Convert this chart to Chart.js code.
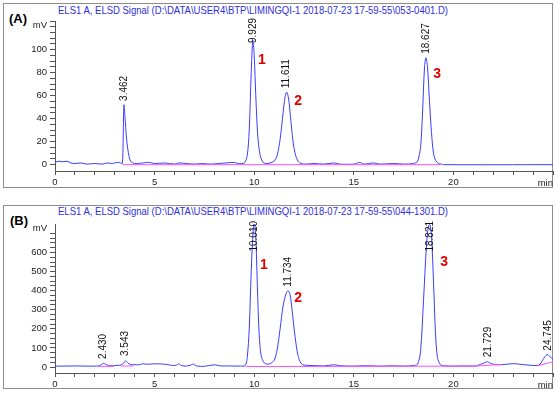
<!DOCTYPE html>
<html>
<head>
<meta charset="utf-8">
<script src="https://cdn.jsdelivr.net/npm/chart.js@4.4.0/dist/chart.umd.min.js"></script>
<style>
  body { margin: 0; background: #fff; width: 555px; height: 394px; position: relative; overflow: hidden; font-family: "Liberation Sans", Arial, sans-serif; }
  .box { position: absolute; left: 3px; width: 550px; border: 1px solid #8c8c8c; box-sizing: border-box; }
  .tag { position: absolute; font-weight: bold; font-size: 13px; line-height: 15px; color: #000; }
  .ttl { position: absolute; left: 58px; font-size: 11px; line-height: 13px; color: #2e2ee0; white-space: nowrap;
         transform: scaleX(0.865); transform-origin: 0 0; }
  canvas { position: absolute; left: 0; }
</style>
</head>
<body>
<div class="box" style="top:3px;height:185px"></div>
<div class="box" style="top:205px;height:184px"></div>
<div class="ttl" style="top:4px">ELS1 A, ELSD Signal (D:\DATA\USER4\BTP\LIMINGQI-1 2018-07-23 17-59-55\053-0401.D)</div>
<div class="ttl" style="top:205px">ELS1 A, ELSD Signal (D:\DATA\USER4\BTP\LIMINGQI-1 2018-07-23 17-59-55\044-1301.D)</div>
<div class="tag" style="left:9px;top:11px">(A)</div>
<div class="tag" style="left:10px;top:213px">(B)</div>
<canvas id="chartA" width="555" height="191" style="top:0px"></canvas>
<canvas id="chartB" width="555" height="193" style="top:200px"></canvas>
<script>
// ---- panel A : 053-0401.D ----
var timeA = [0, 0.2, 0.4, 0.6, 0.8, 1.0, 1.3, 1.6, 2.0, 2.4, 2.6, 2.9, 3.1, 3.3, 3.38, 3.42, 3.46, 3.52, 3.58, 3.65,
  3.72, 3.8, 3.9, 4.1, 4.4, 4.7, 5.0, 5.5, 6.0, 6.2, 6.6, 7.0, 7.4, 7.8, 8.2, 8.6, 9.0, 9.2, 9.5, 9.65,
  9.75, 9.85, 9.93, 10.0, 10.08, 10.18, 10.3, 10.45, 10.6, 10.8, 11.0, 11.15, 11.3, 11.45, 11.55, 11.63, 11.72, 11.82, 11.95, 12.08,
  12.2, 12.35, 12.6, 13.0, 13.5, 14.0, 14.3, 15.0, 15.3, 15.5, 16.0, 16.3, 17.0, 17.5, 18.0, 18.2, 18.35, 18.45, 18.55, 18.62,
  18.7, 18.8, 18.9, 19.0, 19.1, 19.25, 19.4, 19.5, 25];
var signalA = [2, 3, 2.5, 3, 1.5, 1, 1.5, 0.5, 1, 0.5, 1.5, 1, 2, 1.5, 1, 20, 52, 40, 25, 14,
  7, 3, 1.5, 1, 1.5, 2, 1, 1.5, 0.5, 1.5, 1, 0.5, 1, 0.5, 1, 1.5, 2, 1, 1.5, 8,
  30, 80, 108, 95, 60, 25, 8, 2, 1, 1.5, 3, 8, 22, 45, 59, 63, 58, 42, 20, 8,
  3, 1, 0.5, 1, 0.5, 1.5, 0.5, 0.5, 2, 0.5, 1.5, 0.5, 1, 0.5, 1, 3, 15, 45, 85, 93,
  85, 55, 28, 10, 4, 1, 0.5, 0, 0];
var baseTimeA = [3.4, 19.35];
var baseA = [0, 0];
var peakTimeA = [3.462, 9.929, 11.611, 18.627];
var peakHeightA = [52, 108, 63, 93];
var compoundA = ["1", "2", "3"];
var compoundTimeA = [10.39, 12.2, 19.18];
var compoundLevelA = [91, 55, 79];

// ---- panel B : 044-1301.D ----
var timeB = [0, 0.5, 1.0, 1.5, 2.0, 2.2, 2.35, 2.43, 2.55, 2.7, 2.9, 3.1, 3.3, 3.45, 3.54, 3.65, 3.8, 4.0, 4.2, 4.4,
  4.6, 5.0, 5.4, 5.7, 5.9, 6.1, 6.2, 6.35, 6.6, 6.85, 6.95, 7.1, 7.5, 8.0, 8.3, 8.8, 9.3, 9.55, 9.65, 9.75,
  9.85, 9.95, 10.01, 10.08, 10.16, 10.25, 10.35, 10.5, 10.65, 10.8, 11.0, 11.15, 11.3, 11.45, 11.6, 11.7, 11.8, 11.9, 12.05, 12.2,
  12.35, 12.5, 13.0, 13.5, 14.0, 14.3, 15.0, 15.5, 16.0, 16.5, 17.0, 17.5, 18.0, 18.2, 18.35, 18.5, 18.65, 18.75, 18.82, 18.9,
  19.0, 19.1, 19.2, 19.35, 19.5, 20.0, 20.5, 21.0, 21.2, 21.5, 21.7, 21.9, 22.2, 22.6, 23.0, 23.4, 23.8, 24.2, 24.35, 24.5,
  24.7, 24.85, 25.0];
var signalB = [5, 5, 6, 5, 5, 6, 15, 20, 14, 8, 7, 9, 10, 22, 33, 22, 13, 13, 12, 17,
  15, 17, 16, 12, 8, 10, 17, 8, 5, 12, 16, 6, 4, 12, 6, 6, 5, 8, 50, 200,
  500, 720, 760, 680, 420, 170, 60, 22, 15, 18, 35, 90, 200, 320, 385, 400, 380, 300, 160, 60,
  20, 10, 8, 6, 12, 7, 5, 7, 6, 5, 7, 5, 8, 15, 80, 350, 640, 740, 745, 690,
  450, 180, 50, 12, 7, 5, 6, 5, 8, 20, 28, 18, 12, 14, 18, 14, 10, 8, 15, 40,
  65, 55, 40];
var baseTimeB = [2.2, 2.95, null, 3.3, 3.95, null, 9.6, 21.1, 22.4, null, 24.2, 25];
var baseB = [4, 4, null, 5, 6, null, 3, 5, 14, null, 6, 28];
var peakTimeB = [2.430, 3.543, 10.010, 11.734, 18.821, 21.729, 24.745];
var peakHeightB = [22, 37, 760, 400, 745, 30, 65];
var compoundB = ["1", "2", "3"];
var compoundTimeB = [10.49, 12.2, 19.53];
var compoundLevelB = [534, 361, 550];

var FONT = '"Liberation Sans", Arial, sans-serif';

function pts(xs, ys) {
  return xs.map(function (t, i) { return { x: t, y: t === null ? null : ys[i] }; });
}

var peakLabels = {
  id: "peakLabels",
  afterDatasetsDraw: function (chart, args, o) {
    var ctx = chart.ctx, area = chart.chartArea, x = chart.scales.x, y = chart.scales.y;
    ctx.save();
    ctx.font = "10px " + FONT;
    ctx.fillStyle = "#111";
    o.times.forEach(function (t, i) {
      var txt = t.toFixed(3);
      var w = ctx.measureText(txt).width;
      var py = Math.max(y.getPixelForValue(o.heights[i]) - 4, area.top + w - 3);
      ctx.save();
      ctx.translate(x.getPixelForValue(t), py);
      ctx.rotate(-Math.PI / 2);
      ctx.textAlign = "left";
      ctx.textBaseline = "middle";
      ctx.fillText(txt, 0, 0);
      ctx.restore();
    });
    // compound numbers
    ctx.font = "bold 14px " + FONT;
    ctx.fillStyle = "#e00000";
    ctx.textAlign = "center";
    ctx.textBaseline = "middle";
    o.names.forEach(function (n, i) {
      ctx.fillText(n, x.getPixelForValue(o.ntimes[i]), y.getPixelForValue(o.nlevels[i]));
    });
    // units
    ctx.font = "9.5px " + FONT;
    ctx.fillStyle = "#222";
    ctx.textAlign = "right";
    ctx.fillText("mV", area.left - 8, area.top + 4);
    ctx.fillText("min", area.right, area.bottom + 12);
    ctx.restore();
  }
};

function makeChart(id, time, signal, bt, bv, ymin, ymax, ystep, ylab, ylabMax, padTop, lbl) {
  return new Chart(document.getElementById(id), {
    type: "line",
    data: {
      datasets: [
        { data: pts(bt, bv), borderColor: "#ff4dff", borderWidth: 1, pointRadius: 0, spanGaps: false },
        { data: pts(time, signal), borderColor: "#3c3cff", borderWidth: 1, pointRadius: 0, tension: 0.3 }
      ]
    },
    options: {
      responsive: false,
      animation: false,
      layout: { padding: { top: padTop, right: 2, left: 0, bottom: 0 } },
      plugins: { legend: { display: false }, tooltip: { enabled: false }, peakLabels: lbl },
      scales: {
        x: {
          type: "linear", min: 0, max: 25,
          afterFit: function (s) { s.height = 20; },
          grid: { drawOnChartArea: false, tickLength: 4, color: "#555" },
          border: { color: "#555" },
          ticks: {
            stepSize: 1, autoSkip: false, maxRotation: 0, padding: 2, color: "#222",
            font: { size: 9.5, family: FONT },
            callback: function (v) { return v % 5 === 0 && v < 25 ? v : ""; }
          }
        },
        y: {
          min: ymin, max: ymax,
          afterFit: function (s) { s.width = 55; },
          afterBuildTicks: function (s) { s.ticks = s.ticks.filter(function (t) { return t.value % ystep === 0; }); },
          grid: { drawOnChartArea: false, tickLength: 5, color: "#555" },
          border: { color: "#555" },
          ticks: {
            stepSize: ystep, autoSkip: false, padding: 3, color: "#222",
            font: { size: 9.5, family: FONT },
            callback: function (v) { return v % ylab === 0 && v <= ylabMax ? v : ""; }
          }
        }
      }
    },
    plugins: [peakLabels]
  });
}

makeChart("chartA", timeA, signalA, baseTimeA, baseA, -5.5, 125, 5, 20, 100, 21,
  { times: peakTimeA, heights: peakHeightA, names: compoundA, ntimes: compoundTimeA, nlevels: compoundLevelA });
makeChart("chartB", timeB, signalB, baseTimeB, baseB, -31, 749, 25, 100, 600, 24,
  { times: peakTimeB, heights: peakHeightB, names: compoundB, ntimes: compoundTimeB, nlevels: compoundLevelB });
</script>
</body>
</html>
